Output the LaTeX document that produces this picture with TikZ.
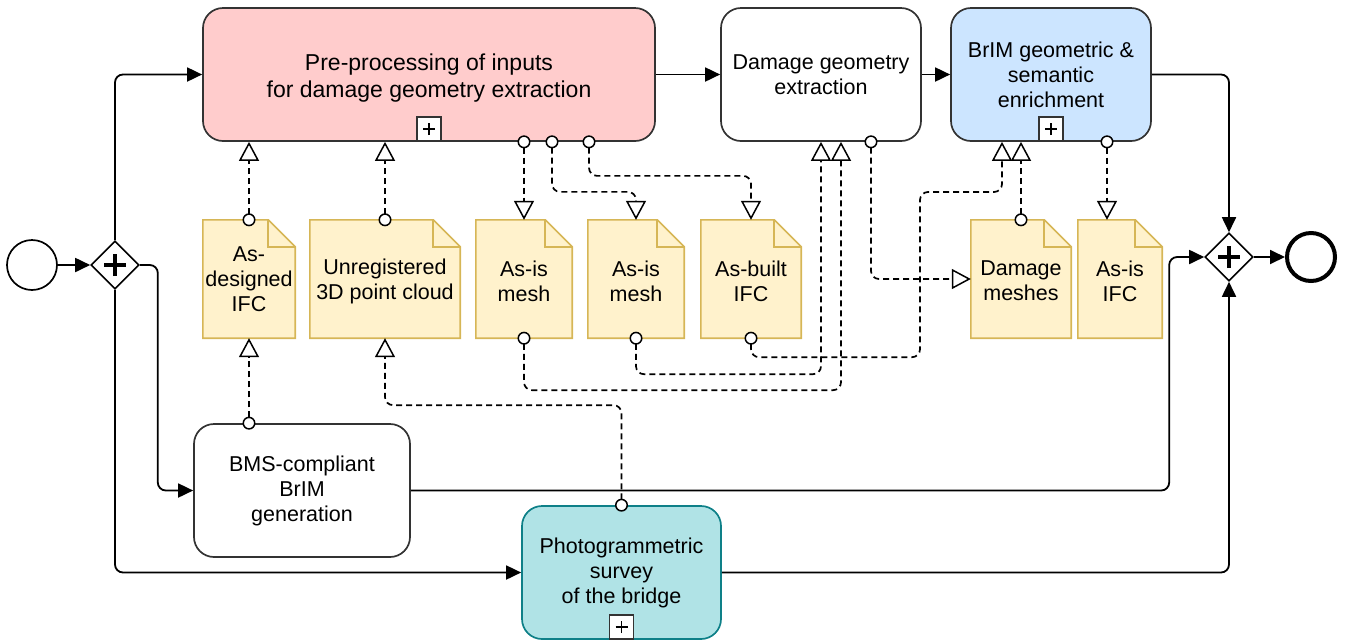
\documentclass[tikz,border=0pt]{standalone}
\usepackage{fontspec}
\setmainfont{Liberation Sans}
\usetikzlibrary{arrows.meta,shapes.geometric}

\definecolor{prefill}{HTML}{FFCCCC}
\definecolor{brimfill}{HTML}{CCE5FF}
\definecolor{photofill}{HTML}{B0E3E6}
\definecolor{photoline}{HTML}{0E8088}
\definecolor{docfill}{HTML}{FFF2CC}
\definecolor{docline}{HTML}{D6B656}
\definecolor{boxline}{HTML}{333333}

\tikzset{
  txt/.style={font={\fontsize{21.5}{25}\selectfont}, align=center},
  task/.style={txt, draw=boxline, line width=1.7pt, rounded corners=20pt,
    minimum height=133pt, inner sep=0pt},
  marker/.style={draw=boxline, fill=white, line width=1.4pt, minimum size=24pt,
    inner sep=0pt, anchor=south},
  doc/.style={txt, minimum height=118pt, inner sep=0pt},
  docshape/.style={draw=docline, fill=docfill, line width=1.6pt, line join=miter},
  gate/.style={diamond, draw=black, fill=white, line width=1.6pt,
    minimum width=48pt, minimum height=48pt, inner sep=0pt},
  gateplus/.style={line width=3.6pt},
  markplus/.style={line width=1.6pt},
  seq/.style={line width=1.8pt, rounded corners=8pt,
    -{Triangle[length=15pt,width=14pt]}},
  assoc/.style={line width=1.7pt, dash pattern=on 6pt off 4pt, rounded corners=8pt,
    {Circle[length=13pt,width=13pt,fill=white,line width=1.5pt]}-{Triangle[open,length=19pt,width=20pt,line width=1.5pt]},
    shorten <=-6.5pt},
}

% folded-corner data object drawn around a named node
\newcommand{\docfold}[1]{%
  \draw[docshape] (#1.south west) -- (#1.north west) -- ([xshift=-27pt]#1.north east)
    -- ([yshift=-27pt]#1.north east) -- (#1.south east) -- cycle;
  \draw[docshape, fill=none] ([xshift=-27pt]#1.north east) |- ([yshift=-27pt]#1.north east);
}
% plus sign inside a collapsed-subprocess marker
\newcommand{\markplus}[1]{%
  \draw[markplus] ([xshift=-6pt]#1.center) -- ([xshift=6pt]#1.center);
  \draw[markplus] ([yshift=-6pt]#1.center) -- ([yshift=6pt]#1.center);
}

\begin{document}
\begin{tikzpicture}[x=1pt,y=-1pt]
\useasboundingbox (0,0) rectangle (1347,641);

% events and gateways
\node[circle, draw, line width=1.7pt, minimum size=50pt, inner sep=0pt] (start) at (32,265) {};
\node[gate] (g1) at (115,265) {};
\draw[gateplus] ([xshift=-11pt]g1.center) -- ([xshift=11pt]g1.center);
\draw[gateplus] ([yshift=-11pt]g1.center) -- ([yshift=11pt]g1.center);
\node[gate] (g2) at (1229,257) {};
\draw[gateplus] ([xshift=-11pt]g2.center) -- ([xshift=11pt]g2.center);
\draw[gateplus] ([yshift=-11pt]g2.center) -- ([yshift=11pt]g2.center);
\node[circle, draw, line width=4pt, minimum size=48pt, inner sep=0pt] (end) at (1311,257) {};

% activities
\node[task, fill=prefill, minimum width=452pt] (pre) at (429,74.5) {};
\node[align=center, font={\fontsize{23}{27}\selectfont}] (pretxt) at ([yshift=-4pt]pre.center)
  {Pre-processing of inputs\\for damage geometry extraction};
\node[marker] (prem) at (pre.south) {};
\markplus{prem}
\node[task, fill=white, minimum width=200pt] (dge) at (821,74.5)
  {Damage geometry\\extraction};
\node[task, fill=brimfill, minimum width=200pt] (brim) at (1051,74.5)
  {BrIM geometric \&\\semantic\\enrichment};
\node[marker] (brimm) at (brim.south) {};
\markplus{brimm}
\node[task, fill=white, minimum width=216pt] (bms) at (302,490.5)
  {BMS-compliant\\BrIM\\generation};
\node[task, draw=photoline, fill=photofill, minimum width=199pt] (photo) at (621.5,572.5)
  {Photogrammetric\\survey\\of the bridge};
\node[marker] (photom) at (photo.south) {};
\markplus{photom}

% data objects
\node[doc, minimum width=92pt]  (asdes)   at (249,279) {};
\node[doc, minimum width=150pt] (unreg)   at (385,279) {};
\node[doc, minimum width=96pt]  (mesh1)   at (524,279) {};
\node[doc, minimum width=96pt]  (mesh2)   at (636,279) {};
\node[doc, minimum width=100pt] (asbuilt) at (751,279) {};
\node[doc, minimum width=100pt] (dmesh)   at (1021,279) {};
\node[doc, minimum width=84pt]  (asisifc) at (1120,279) {};
\docfold{asdes}
\docfold{unreg}
\docfold{mesh1}
\docfold{mesh2}
\docfold{asbuilt}
\docfold{dmesh}
\docfold{asisifc}
\node[txt] at (asdes.center)   {As-\\designed\\IFC};
\node[txt] at ([yshift=-2pt]unreg.center)   {Unregistered\\3D point cloud};
\node[txt] at ([yshift=-2pt]mesh1.center)   {As-is\\mesh};
\node[txt] at ([yshift=-2pt]mesh2.center)   {As-is\\mesh};
\node[txt] at ([yshift=-2pt]asbuilt.center) {As-built\\IFC};
\node[txt] at ([yshift=-2pt]dmesh.center)   {Damage\\meshes};
\node[txt] at ([yshift=-2pt]asisifc.center) {As-is\\IFC};

% sequence flows
\draw[seq] (start) -- (g1);
\draw[seq] (g1.north) |- (pre.west);
\draw[seq] (g1.east) -- ++(18,0) |- (bms.west);
\draw[seq] (g1.south) |- (photo.west);
\draw[seq] (pre.east) -- (dge.west);
\draw[seq] (dge.east) -- (brim.west);
\draw[seq] (brim.east) -| (g2.north);
\draw[seq] (bms.east) -| ([xshift=-35pt]g2.west) -- (g2.west);
\draw[seq] (photo.east) -| (g2.south);
\draw[seq] (g2.east) -- (end);

% data associations
\coordinate (k1) at (920,192);
\draw[assoc] (asdes.north) -- (asdes.north |- pre.south);
\draw[assoc] (unreg.north) -- (unreg.north |- pre.south);
\draw[assoc] (asdes.south |- bms.north) -- (asdes.south);
\draw[assoc] (photo.north) -- ++(0,-100) -| (unreg.south);
\draw[assoc] (pre.south -| mesh1.north) -- (mesh1.north);
\draw[assoc] ([xshift=123pt]pre.south) -- ++(0,50) -| (mesh2.north);
\draw[assoc] ([xshift=160pt]pre.south) -- ++(0,34) -| (asbuilt.north);
\draw[assoc] (mesh1.south) -- ++(0,52) -| ([xshift=20pt]dge.south);
\draw[assoc] (mesh2.south) -- ++(0,36) -| (dge.south);
\draw[assoc] (asbuilt.south) -- ++(0,19) -| (k1) -| ([xshift=-49pt]brim.south);
\draw[assoc] ([xshift=50pt]dge.south) |- (dmesh.west);
\draw[assoc] (dmesh.north) -- (dmesh.north |- brim.south);
\draw[assoc] ([xshift=56pt]brim.south) -- ([xshift=56pt]brim.south |- asisifc.north);
\end{tikzpicture}
\end{document}
